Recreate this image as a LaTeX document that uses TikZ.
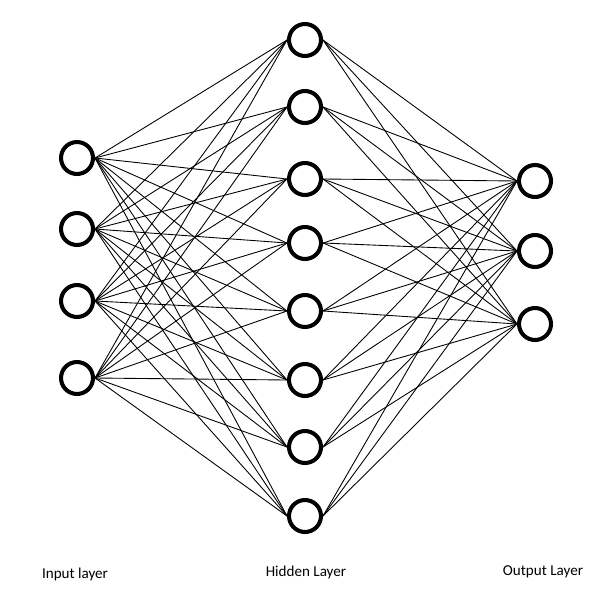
\documentclass[tikz,border=0pt]{standalone}
\usepackage{fontspec}
\setmainfont{Carlito}
\begin{document}
\begin{tikzpicture}[x=0.02cm,y=-0.02cm]
        \tikzset{neuron/.style={circle,draw,line width=2.3pt,minimum size=0.64cm,inner sep=0pt},
                 link/.style={line width=0.5pt},
                 caption/.style={font=\fontsize{8.6}{10}\selectfont}};
        \useasboundingbox (0,0) rectangle (611,605);
        \foreach \n/\y in {1/158,2/229,3/301,4/378}
            \node[neuron] (i\n) at (77,\y) {};
        \foreach \n/\y in {1/40,2/107,3/179,4/243,5/311,6/380,7/447,8/516}
            \node[neuron] (h\n) at (305,\y) {};
        \foreach \n/\y in {1/181,2/251,3/324}
            \node[neuron] (o\n) at (535,\y) {};
        \foreach \i in {1,...,4}
            \foreach \h in {1,...,8}
                \draw[link] (i\i.east) -- (h\h.west);
        \foreach \h in {1,...,8}
            \foreach \o in {1,...,3}
                \draw[link] (h\h.east) -- (o\o.west);
        \node[caption] (lin) at (75,574) {Input layer};
        \node[caption] (lhid) at (306,572) {Hidden Layer};
        \node[caption] (lout) at (543,572) {Output Layer};
    \end{tikzpicture}
\end{document}
